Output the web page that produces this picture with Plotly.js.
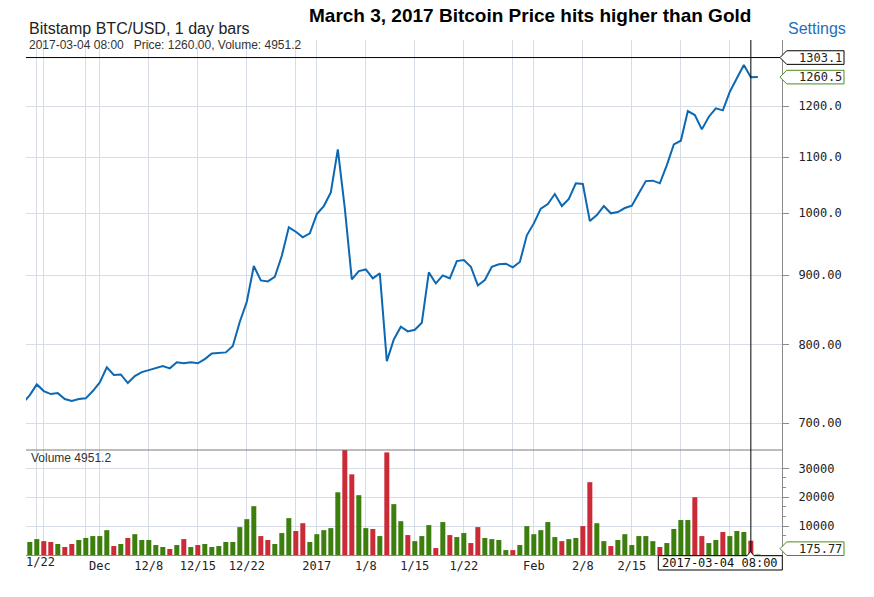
<!DOCTYPE html>
<html>
<head>
<meta charset="utf-8">
<script src="https://cdn.plot.ly/plotly-3.0.1.min.js"></script>
<style>
html,body{margin:0;padding:0;background:#fff;}
#chart{width:874px;height:597px;}
</style>
</head>
<body>
<div id="chart"></div>
<script>
// ---------------- data ----------------
const firstDay = [2016, 10, 20]; // 2016-11-20 (UTC, month 0-based)
const closePrices = [
  724.0, 734.0, 747.5, 739.1, 735.3, 736.5, 729.1, 726.6, 729.1, 730.0, 739.1,           // Nov 20-30
  750.1, 769.5, 759.5, 760.3, 749.2, 758.2, 763.3, 765.9, 768.6, 771.2,                 // Dec 1-10
  768.2, 776.1, 774.8, 776.1, 774.8, 780.4, 787.9, 788.5, 789.3, 797.9,                 // Dec 11-20
  831.5, 860.3, 914.2, 892.1, 890.6, 897.6, 930.2, 976.3, 969.0, 959.8, 966.4,          // Dec 21-31
  998.6, 1012.3, 1036.2, 1114.8, 1008.4, 893.7, 906.4, 908.9, 895.1, 902.8,             // Jan 1-10
  777.7, 806.9, 824.5, 818.0, 820.3, 830.1, 904.3, 887.5, 899.8, 895.1,                 // Jan 11-20
  921.9, 923.5, 913.1, 884.5, 892.6, 913.1, 916.8, 917.8, 912.1, 920.4, 963.1,          // Jan 21-31
  982.9, 1007.8, 1015.8, 1033.2, 1012.3, 1024.5, 1052.2, 1051.0, 986.8, 997.0,          // Feb 1-10
  1012.3, 999.9, 1002.0, 1008.9, 1012.9, 1034.4, 1056.2, 1057.0, 1052.2, 1085.4,        // Feb 11-20
  1124.3, 1131.2, 1189.8, 1181.7, 1153.3, 1178.4, 1195.2, 1191.2,                       // Feb 21-28
  1229.6, 1257.9, 1286.7, 1260.0, 1260.5                                                // Mar 1-5
];
// daily volume from 2016-11-21
const volumes = [
  4500, 5500, 4800, 4500, 3800, 2760, 3800, 5200, 5900, 6550,
  6550, 8600, 3100, 3800, 5900, 7200, 5200, 5200, 3450, 2760,
  2070, 3450, 5500, 2760, 3450, 3800, 2760, 3100, 4500, 4500,
  9650, 12400, 16900, 6550, 5200, 3800, 7600, 12750, 8300, 11000,
  4500, 7200, 8600, 9300, 21700, 36500, 27900, 20700, 9300, 9000,
  6550, 35500, 17600, 11700, 6900, 4800, 6550, 10350, 2400, 11400,
  6900, 6200, 7600, 4140, 9650, 5900, 5500, 5200, 1700, 1700,
  3450, 10000, 7200, 8600, 11400, 6200, 4800, 5500, 5900, 10000,
  25200, 11000, 4800, 3100, 5200, 7200, 3450, 6550, 6550, 4800,
  2760, 4140, 9000, 12100, 12100, 20000, 6550, 4140, 5200, 7950,
  6550, 8300, 7950, 4951.2, 175.77
];
const priceTickVals = [700, 800, 900, 1000, 1100, 1200];
const priceTickText = ['700.00', '800.00', '900.00', '1000.0', '1100.0', '1200.0'];
const volTickVals = [10000, 20000, 30000];
const volTickText = ['10000', '20000', '30000'];
const volMinorTicks = [3333, 6667, 13333, 16667, 23333, 26667];
const dateTickVals = ['2016-11-22', '2016-11-23', '2016-11-29', '2016-12-01', '2016-12-08', '2016-12-15',
  '2016-12-22', '2016-12-29', '2017-01-01', '2017-01-08', '2017-01-15', '2017-01-22', '2017-01-29',
  '2017-02-01', '2017-02-08', '2017-02-15', '2017-02-22', '2017-03-01'];
const dateTickText = ['', '', '', 'Dec', '12/8', '12/15', '12/22', '', '2017', '1/8', '1/15', '1/22', '',
  'Feb', '2/8', '2/15', '', ''];
const cursorDate = '2017-03-04';
const cursorLabel = '2017-03-04 08:00';
const cursorPrice = '1260.00';
const cursorVolume = '4951.2';
const crossPrice = 1303.1;
const lastPrice = 1260.5;
const lastVolume = 175.77;

// ---------------- build ----------------
const dates = [];
(function () {
  const d0 = Date.UTC(firstDay[0], firstDay[1], firstDay[2]);
  for (let i = 0; i < closePrices.length; i++) {
    dates.push(new Date(d0 + i * 86400000).toISOString().slice(0, 10));
  }
})();
const volDates = dates.slice(1);
const GREEN = '#3c7f0e', RED = '#cb2a37';
const volColors = volumes.map((v, i) => closePrices[i + 1] >= closePrices[i] ? GREEN : RED);

const W = 874, H = 597, M = {l: 26, r: 92, t: 40, b: 42};
const PW = W - M.l - M.r, PH = H - M.t - M.b;
const volTop = 105 / PH;
const priceRange = [Math.log10(668.6), Math.log10(1342.6)];
const volRange = [0, 36332];
const pxX = px => (px - M.l) / PW;
const pxY = py => (H - M.b - py) / PH;
const priceY = p => volTop + (Math.log10(p) - priceRange[0]) / (priceRange[1] - priceRange[0]) * (1 - volTop);
const volY = v => (v - volRange[0]) / (volRange[1] - volRange[0]) * volTop;

const MONO = 'DejaVu Sans Mono, monospace';
const SANS = 'Liberation Sans, Arial, sans-serif';
const GRID = '#d6dde7';
const AXIS = '#8a8a8a';

function labelPath(yc) {
  const tip = pxX(780), l = pxX(786.7), r = pxX(844), hh = 6.8 / PH;
  return `M${tip},${yc} L${l},${yc + hh} L${r},${yc + hh} L${r},${yc - hh} L${l},${yc - hh} Z`;
}
const lastVolY = Math.max(volY(lastVolume), pxY(548.7));

const cx = 750.5;
const dateBoxPath = `M${pxX(658.3)},${pxY(555.7)} L${pxX(cx - 3.5)},${pxY(555.7)} L${pxX(cx)},${pxY(551.5)} ` +
  `L${pxX(cx + 3.5)},${pxY(555.7)} L${pxX(782.3)},${pxY(555.7)} L${pxX(782.3)},${pxY(570)} L${pxX(658.3)},${pxY(570)} Z`;

const traces = [
  {
    type: 'scatter', mode: 'lines', x: dates, y: closePrices, xaxis: 'x', yaxis: 'y',
    line: {color: '#0c68b2', width: 2}, hoverinfo: 'skip', cliponaxis: true
  },
  {
    type: 'bar', x: volDates, y: volumes, xaxis: 'x', yaxis: 'y2',
    marker: {color: volColors, line: {width: 0}}, hoverinfo: 'skip'
  }
];

const layout = {
  width: W, height: H, margin: M,
  paper_bgcolor: '#fff', plot_bgcolor: '#fff',
  showlegend: false, bargap: 0.286,
  font: {family: SANS, color: '#222'},
  xaxis: {
    type: 'date', anchor: 'y2',
    range: ['2016-11-20 11:00', '2017-03-08 10:48'],
    tickmode: 'array', tickvals: dateTickVals, ticktext: dateTickText,
    showgrid: true, gridcolor: GRID, gridwidth: 1,
    showline: true, linecolor: AXIS, linewidth: 1,
    ticks: '', zeroline: false, fixedrange: true,
    tickfont: {family: MONO, size: 12, color: '#222'}
  },
  yaxis: {
    domain: [volTop, 1], anchor: 'x', side: 'right', type: 'log',
    range: priceRange,
    tickmode: 'array', tickvals: priceTickVals, ticktext: priceTickText,
    showgrid: true, gridcolor: GRID, gridwidth: 1,
    showline: true, linecolor: AXIS, linewidth: 1,
    ticks: 'outside', ticklen: 6, tickcolor: AXIS, ticklabelstandoff: 7,
    zeroline: false, fixedrange: true,
    tickfont: {family: MONO, size: 12, color: '#222'}
  },
  yaxis2: {
    domain: [0, volTop], anchor: 'x', side: 'right',
    range: volRange,
    tickmode: 'array', tickvals: volTickVals, ticktext: volTickText,
    showgrid: true, gridcolor: GRID, gridwidth: 1,
    showline: true, linecolor: AXIS, linewidth: 1,
    ticks: 'outside', ticklen: 6, tickcolor: AXIS, ticklabelstandoff: 7,
    minor: {tickmode: 'array', tickvals: volMinorTicks, ticks: 'outside', ticklen: 3, tickcolor: AXIS, showgrid: false},
    zeroline: false, fixedrange: true,
    tickfont: {family: MONO, size: 12, color: '#222'}
  },
  shapes: [
    {type: 'line', xref: 'paper', yref: 'paper', x0: 0, x1: 1, y0: volTop, y1: volTop,
      line: {color: '#7a7a7a', width: 1}},
    {type: 'line', xref: 'x', yref: 'paper', x0: cursorDate, x1: cursorDate, y0: 0, y1: 1,
      line: {color: '#000', width: 1}},
    {type: 'line', xref: 'paper', yref: 'paper', x0: 0, x1: pxX(780), y0: priceY(crossPrice), y1: priceY(crossPrice),
      line: {color: '#000', width: 1}},
    {type: 'path', xref: 'paper', yref: 'paper', path: labelPath(priceY(crossPrice)),
      fillcolor: '#fff', line: {color: '#000', width: 1}},
    {type: 'path', xref: 'paper', yref: 'paper', path: labelPath(priceY(lastPrice)),
      fillcolor: '#fff', line: {color: '#4e8a1f', width: 1}},
    {type: 'path', xref: 'paper', yref: 'paper', path: labelPath(lastVolY),
      fillcolor: '#fff', line: {color: '#4e8a1f', width: 1}},
    {type: 'path', xref: 'paper', yref: 'paper', path: dateBoxPath,
      fillcolor: '#fff', line: {color: '#000', width: 1}}
  ],
  annotations: [
    {xref: 'paper', yref: 'paper', x: pxX(27), y: pxY(28), xanchor: 'left', yanchor: 'middle', showarrow: false,
      text: 'Bitstamp BTC/USD, 1 day bars', font: {family: SANS, size: 16, color: '#222'}},
    {xref: 'paper', yref: 'paper', x: pxX(530), y: pxY(15.5), xanchor: 'center', yanchor: 'middle', showarrow: false,
      text: '<b>March 3, 2017 Bitcoin Price hits higher than Gold</b>', font: {family: SANS, size: 19, color: '#000'}},
    {xref: 'paper', yref: 'paper', x: pxX(786), y: pxY(28), xanchor: 'left', yanchor: 'middle', showarrow: false,
      text: 'Settings', font: {family: SANS, size: 16, color: '#1b6fc2'}},
    {xref: 'paper', yref: 'paper', x: pxX(27), y: pxY(45), xanchor: 'left', yanchor: 'middle', showarrow: false,
      text: cursorLabel + '\u00a0\u00a0\u00a0Price: ' + cursorPrice + ', Volume: ' + cursorVolume,
      font: {family: SANS, size: 12, color: '#333'}},
    {xref: 'paper', yref: 'paper', x: pxX(29), y: pxY(458), xanchor: 'left', yanchor: 'middle', showarrow: false,
      text: 'Volume ' + cursorVolume, font: {family: SANS, size: 12, color: '#333'}},
    {xref: 'paper', yref: 'paper', x: pxX(797), y: priceY(crossPrice), xanchor: 'left', yanchor: 'middle', showarrow: false,
      text: crossPrice.toFixed(1), font: {family: MONO, size: 12, color: '#222'}},
    {xref: 'paper', yref: 'paper', x: pxX(797), y: priceY(lastPrice), xanchor: 'left', yanchor: 'middle', showarrow: false,
      text: lastPrice.toFixed(1), font: {family: MONO, size: 12, color: '#222'}},
    {xref: 'paper', yref: 'paper', x: pxX(797), y: lastVolY, xanchor: 'left', yanchor: 'middle', showarrow: false,
      text: lastVolume.toFixed(2), font: {family: MONO, size: 12, color: '#222'}},
    {xref: 'paper', yref: 'paper', x: pxX(720.3), y: pxY(563), xanchor: 'center', yanchor: 'middle', showarrow: false,
      text: cursorLabel, font: {family: MONO, size: 12, color: '#111'}},
    {xref: 'paper', yref: 'paper', x: pxX(40), y: pxY(562), xanchor: 'center', yanchor: 'middle', showarrow: false,
      text: '1/22', font: {family: MONO, size: 12, color: '#222'}}
  ]
};

Plotly.newPlot('chart', traces, layout, {displayModeBar: false, staticPlot: true});
</script>
</body>
</html>
